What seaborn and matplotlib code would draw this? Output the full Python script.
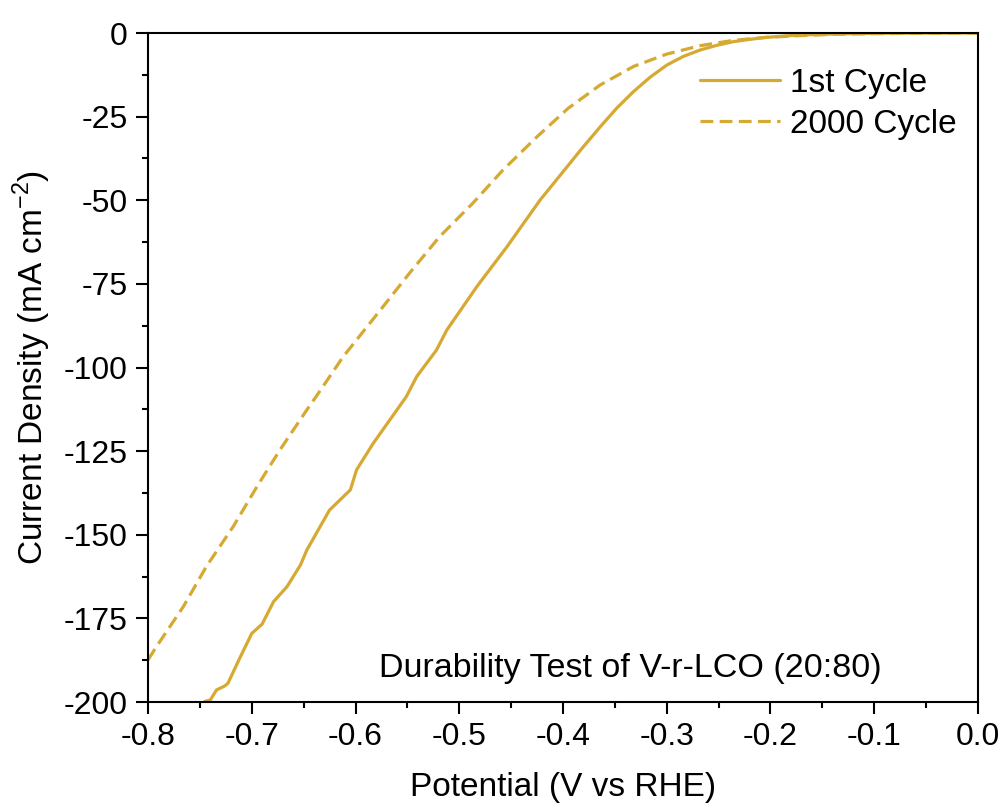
import numpy as np
import pandas as pd
import matplotlib
matplotlib.use("Agg")
import matplotlib.pyplot as plt
import seaborn as sns
from matplotlib.ticker import MultipleLocator

# ---- data ----
v_first = [-0.750, -0.745, -0.740, -0.734, -0.726, -0.723, -0.711, -0.700, -0.690,
           -0.679, -0.666, -0.653, -0.647, -0.625, -0.605, -0.599, -0.583, -0.551,
           -0.541, -0.522, -0.512, -0.483, -0.454, -0.422, -0.400, -0.382, -0.364,
           -0.348, -0.332, -0.316, -0.300, -0.284, -0.268, -0.252, -0.236, -0.220,
           -0.204, -0.172, -0.140, -0.100, -0.050, 0.000]
j_first = [-201.0, -199.8, -199.4, -196.4, -195.2, -194.4, -186.5, -179.5, -176.7,
           -170.0, -165.5, -159.0, -154.6, -142.6, -136.6, -130.6, -122.7, -108.7,
           -102.7, -94.8, -88.8, -75.8, -63.9, -49.9, -41.5, -34.6, -28.0,
           -22.4, -17.5, -13.2, -9.6, -7.0, -5.1, -3.7, -2.6, -1.9,
           -1.3, -0.6, -0.3, -0.1, 0.0, 0.0]

v_2000 = [-0.800, -0.792, -0.766, -0.744, -0.718, -0.695, -0.673, -0.647, -0.638,
          -0.612, -0.576, -0.548, -0.519, -0.487, -0.458, -0.425, -0.395, -0.364,
          -0.332, -0.300, -0.268, -0.236, -0.204, -0.172, -0.140, -0.100, -0.050, 0.000]
j_2000 = [-187.4, -183.5, -171.5, -159.6, -147.6, -135.6, -124.7, -112.7, -108.7,
          -96.8, -82.8, -71.8, -60.9, -50.9, -41.0, -31.0, -22.5, -15.5,
          -10.0, -6.3, -3.8, -2.2, -1.3, -0.8, -0.4, -0.2, -0.05, 0.0]

series_names = ["1st Cycle", "2000 Cycle"]
x_ticks = [-0.8, -0.7, -0.6, -0.5, -0.4, -0.3, -0.2, -0.1, 0.0]
y_ticks = [0, -25, -50, -75, -100, -125, -150, -175, -200]

df = pd.concat([
    pd.DataFrame({"Potential": v_first, "Current": j_first, "Series": series_names[0]}),
    pd.DataFrame({"Potential": v_2000, "Current": j_2000, "Series": series_names[1]}),
], ignore_index=True)

# ---- style ----
sns.set_theme(style="ticks")
plt.rcParams["font.family"] = ["Liberation Sans", "DejaVu Sans"]
plt.rcParams["mathtext.fontset"] = "custom"
plt.rcParams["mathtext.rm"] = "Liberation Sans"
plt.rcParams["text.color"] = "black"
plt.rcParams["axes.labelcolor"] = "black"

gold = "#D6A933"

fig = plt.figure(figsize=(10.05, 8.11), dpi=100)
ax = fig.add_axes([0.1473, 0.1344, 0.8258, 0.8249])

sns.lineplot(data=df, x="Potential", y="Current", hue="Series", style="Series",
             palette=[gold, gold], dashes=[(None, None), (4, 2)],
             estimator=None, sort=False, linewidth=2.3, ax=ax)

ax.set_xlim(-0.8, 0.0)
ax.set_ylim(-200, 0)
ax.set_xticks(x_ticks)
ax.set_xticklabels([f"{t:.1f}" for t in x_ticks])
ax.set_yticks(y_ticks)
ax.set_yticklabels([str(t) for t in y_ticks])
ax.xaxis.set_minor_locator(MultipleLocator(0.05))
ax.yaxis.set_minor_locator(MultipleLocator(12.5))

for s in ax.spines.values():
    s.set_visible(True)
    s.set_linewidth(1.5)
    s.set_color("black")

ax.tick_params(axis="both", which="major", direction="out", length=8.5, width=1.5,
               labelsize=23, pad=6, color="black", labelcolor="black")
ax.tick_params(axis="both", which="minor", direction="out", length=4.5, width=1.5,
               color="black")
ax.tick_params(top=False, right=False, which="both")

ax.set_xlabel("Potential (V vs RHE)", fontsize=24, labelpad=14, color="black")
ax.set_ylabel("Current Density (mA cm$^{-2}$)", fontsize=24, labelpad=8, color="black")

ax.text(0.581, 0.037, "Durability Test of V-r-LCO (20:80)", transform=ax.transAxes,
        ha="center", va="baseline", fontsize=24.5, color="black")

leg = ax.legend(loc="upper right", bbox_to_anchor=(0.99, 0.968), frameon=False,
                fontsize=24, handlelength=2.4, handletextpad=0.3, labelspacing=0.3,
                borderaxespad=0.0)
for line in leg.get_lines():
    line.set_linewidth(2.3)
for t in leg.get_texts():
    t.set_color("black")

fig.savefig("out.png", dpi=100, facecolor="white")
